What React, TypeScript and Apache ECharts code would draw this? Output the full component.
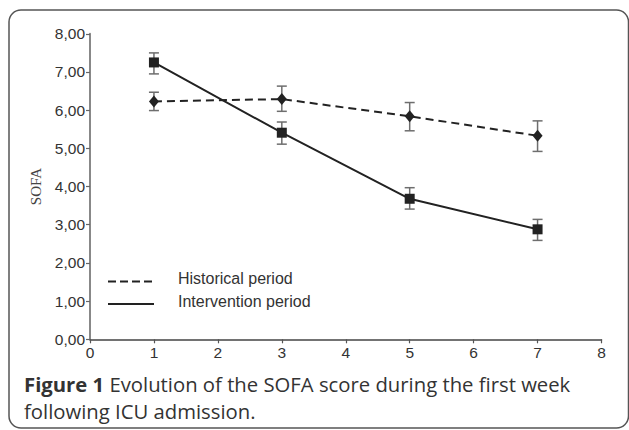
import React, { useEffect, useRef } from "react";
import * as echarts from "echarts";

const days = [1, 3, 5, 7];
const historicalMean = [6.23, 6.29, 5.84, 5.33];
const historicalLow = [5.99, 5.97, 5.46, 4.92];
const historicalHigh = [6.47, 6.63, 6.2, 5.72];
const interventionMean = [7.25, 5.41, 3.68, 2.88];
const interventionLow = [6.95, 5.11, 3.41, 2.59];
const interventionHigh = [7.5, 5.69, 3.97, 3.14];
const seriesNames = ["Historical period", "Intervention period"];
const yAxisTitle = "SOFA";
const captionBold = "Figure 1";
const captionLine1 = " Evolution of the SOFA score during the first week";
const captionLine2 = "following ICU admission.";

const SANS = "'Liberation Sans', Arial, sans-serif";
const CAP = "'Open Sans', 'Noto Sans', sans-serif";

function errRender(params: any, api: any) {
  const x = api.value(0);
  const lo = api.coord([x, api.value(1)]);
  const hi = api.coord([x, api.value(2)]);
  const w = 5;
  const st = { stroke: "#6e6e6e", lineWidth: 1.5 };
  return {
    type: "group",
    children: [
      { type: "line", shape: { x1: lo[0], y1: lo[1], x2: hi[0], y2: hi[1] }, style: st },
      { type: "line", shape: { x1: lo[0] - w, y1: lo[1], x2: lo[0] + w, y2: lo[1] }, style: st },
      { type: "line", shape: { x1: hi[0] - w, y1: hi[1], x2: hi[0] + w, y2: hi[1] }, style: st },
    ],
  };
}

export default function App() {
  const ref = useRef<HTMLDivElement>(null);
  useEffect(() => {
    if (!ref.current) return;
    const chart = echarts.init(ref.current, null, { renderer: "svg" });
    const fmt = (v: number) => v.toFixed(2).replace(".", ",");
    chart.setOption({
      animation: false,
      backgroundColor: "#ffffff",
      grid: { left: 90, right: 27.5, top: 33.8, bottom: 90.7 },
      xAxis: {
        type: "value",
        min: 0,
        max: 8,
        interval: 1,
        splitLine: { show: false },
        axisLine: { lineStyle: { color: "#444", width: 1.5 } },
        axisTick: { length: 4, lineStyle: { color: "#555", width: 1.2 } },
        axisLabel: { color: "#333", fontSize: 15.5, fontFamily: SANS, margin: 5 },
      },
      yAxis: {
        type: "value",
        min: 0,
        max: 8,
        interval: 1,
        name: yAxisTitle,
        nameLocation: "middle",
        nameGap: 38,
        nameTextStyle: { color: "#444", fontSize: 15, fontFamily: "'Liberation Serif', 'Times New Roman', serif" },
        splitLine: { show: false },
        axisLine: { show: true, lineStyle: { color: "#888", width: 2 } },
        axisTick: { show: true, length: 4, lineStyle: { color: "#666", width: 1.2 } },
        axisLabel: { color: "#333", fontSize: 15.5, fontFamily: SANS, margin: 5, formatter: fmt },
      },
      series: [
        {
          type: "custom",
          renderItem: errRender,
          data: days.map((d, i) => [d, historicalLow[i], historicalHigh[i]]),
          z: 1,
        },
        {
          type: "custom",
          renderItem: errRender,
          data: days.map((d, i) => [d, interventionLow[i], interventionHigh[i]]),
          z: 1,
        },
        {
          name: seriesNames[0],
          type: "line",
          data: days.map((d, i) => [d, historicalMean[i]]),
          symbol: "diamond",
          symbolSize: [10, 12],
          itemStyle: { color: "#222" },
          lineStyle: { color: "#222", width: 2, type: [8, 5] },
          z: 3,
        },
        {
          name: seriesNames[1],
          type: "line",
          data: days.map((d, i) => [d, interventionMean[i]]),
          symbol: "rect",
          symbolSize: 10,
          itemStyle: { color: "#222" },
          lineStyle: { color: "#222", width: 2 },
          z: 4,
        },
      ],
      graphic: [
        {
          type: "rect",
          shape: { x: 9, y: 10, width: 619.5, height: 418, r: 12 },
          style: { fill: "none", stroke: "#555", lineWidth: 1.5 },
          silent: true,
        },
        {
          type: "line",
          shape: { x1: 108, y1: 281.5, x2: 154, y2: 281.5 },
          style: { stroke: "#222", lineWidth: 2, lineDash: [8, 4] },
        },
        {
          type: "line",
          shape: { x1: 108, y1: 304, x2: 154, y2: 304 },
          style: { stroke: "#222", lineWidth: 2 },
        },
        {
          type: "text",
          x: 178,
          y: 278.7,
          style: { text: seriesNames[0], fill: "#333", font: `16px ${SANS}`, verticalAlign: "middle" },
        },
        {
          type: "text",
          x: 178,
          y: 301.7,
          style: { text: seriesNames[1], fill: "#333", font: `16px ${SANS}`, verticalAlign: "middle" },
        },
        {
          type: "text",
          x: 24,
          y: 384,
          style: {
            text: `{b|${captionBold}}{n|${captionLine1}}`,
            verticalAlign: "middle",
            rich: {
              b: { fontFamily: CAP, fontWeight: "bold", fontSize: 20.3, fill: "#333" },
              n: { fontFamily: CAP, fontSize: 20.3, fill: "#333" },
            },
          },
        },
        {
          type: "text",
          x: 24,
          y: 411,
          style: {
            text: captionLine2,
            verticalAlign: "middle",
            fontFamily: CAP,
            fontSize: 20.3,
            fill: "#333",
          },
        },
      ],
    });
    return () => chart.dispose();
  }, []);
  return <div ref={ref} style={{ width: 629, height: 430, position: "absolute", left: 0, top: 0 }} />;
}
